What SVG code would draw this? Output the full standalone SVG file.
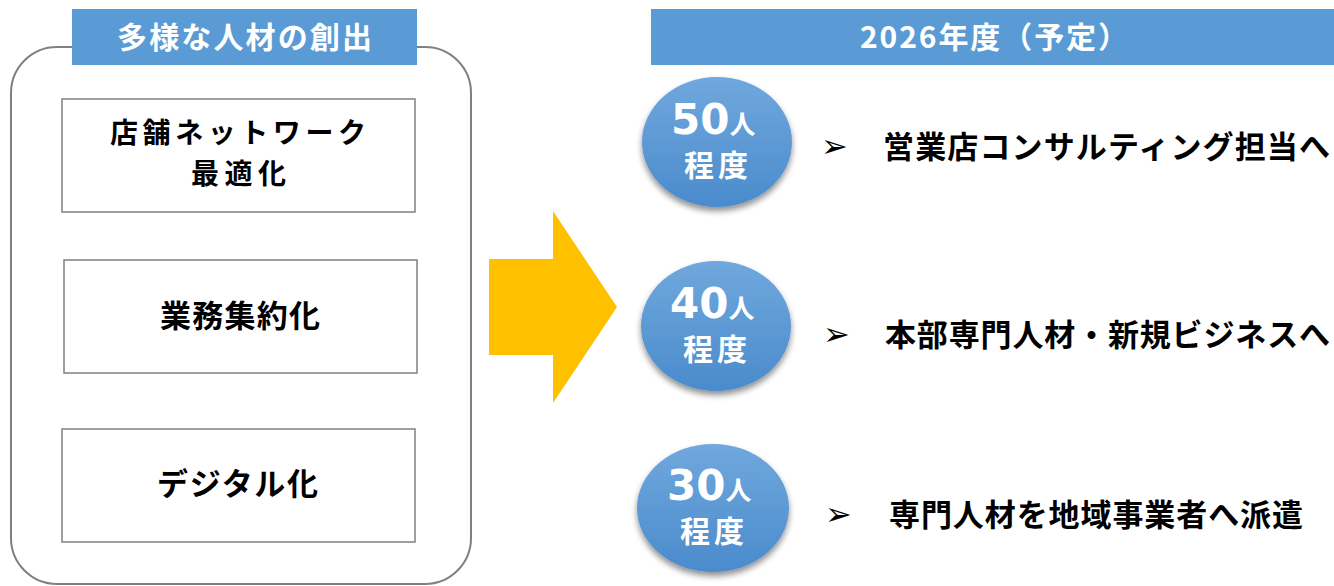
<svg xmlns="http://www.w3.org/2000/svg" width="1334" height="586" viewBox="0 0 1334 586">
<defs>
<linearGradient id="g" x1="0" y1="0" x2="0" y2="1">
<stop offset="0" stop-color="#70a8dd"/>
<stop offset="1" stop-color="#4a8bcc"/>
</linearGradient>
<filter id="sh" x="-20%" y="-20%" width="140%" height="150%">
<feGaussianBlur in="SourceAlpha" stdDeviation="3"/>
<feOffset dx="0" dy="4"/>
<feComponentTransfer><feFuncA type="linear" slope="0.45"/></feComponentTransfer>
<feMerge><feMergeNode/><feMergeNode in="SourceGraphic"/></feMerge>
</filter>
</defs>
<style>
text{font-family:"Noto Sans CJK JP","Noto Sans",sans-serif;font-weight:bold}
.hdr{fill:#5b9bd5}
.ht{fill:#fff;font-size:30px}
.box{fill:#fff;stroke:#808080;stroke-width:1.5}
.bt{fill:#000;font-size:31px}
.bt2{fill:#000;font-size:28px}
.ell{fill:url(#g);filter:url(#sh)}
.num{fill:#fff;font-size:42px;font-family:"DejaVu Sans",sans-serif}
.nin{fill:#fff;font-size:26px}
.deg{fill:#fff;font-size:30px}
.it{fill:#000;font-size:31px}
.bul{fill:#000;font-size:32px;font-family:"DejaVu Sans",sans-serif;font-weight:normal}
</style>
<g id="frame"><rect x="11" y="47" width="460" height="537" rx="46" fill="#fff" stroke="#808080" stroke-width="2"/></g>
<g id="hdr-left"><rect class="hdr" x="72" y="9" width="345" height="56"/><text class="ht" x="117" y="48" textLength="255" lengthAdjust="spacing">多様な人材の創出</text></g>
<g id="hdr-right"><rect class="hdr" x="651" y="9" width="683" height="56"/><text class="ht" x="860" y="48" textLength="268" lengthAdjust="spacing">2026年度（予定）</text></g>
<g id="box1"><rect class="box" x="62" y="99" width="353" height="113"/><text class="bt2" x="110" y="143" textLength="256" lengthAdjust="spacing">店舗ネットワーク</text><text class="bt2" x="191" y="184" textLength="95" lengthAdjust="spacing">最適化</text></g>
<g id="box2"><rect class="box" x="64" y="260" width="353" height="113"/><text class="bt" x="160" y="327" textLength="160" lengthAdjust="spacing">業務集約化</text></g>
<g id="box3"><rect class="box" x="62" y="429" width="353" height="113"/><text class="bt" x="157" y="495" textLength="161" lengthAdjust="spacing">デジタル化</text></g>
<g id="connectors"><polygon points="489,259 553,259 553,211 617,307 553,403 553,355 489,355" fill="#ffc000"/></g>
<g id="c1"><ellipse class="ell" cx="717" cy="142" rx="75" ry="65"/><text x="671" y="134"><tspan class="num">50</tspan><tspan class="nin">人</tspan></text><text class="deg" x="684" y="176" textLength="64" lengthAdjust="spacing">程度</text></g>
<g id="c2"><ellipse class="ell" cx="716" cy="326" rx="75" ry="65"/><text x="670" y="318"><tspan class="num">40</tspan><tspan class="nin">人</tspan></text><text class="deg" x="683" y="360" textLength="64" lengthAdjust="spacing">程度</text></g>
<g id="c3"><ellipse class="ell" cx="713" cy="508" rx="76" ry="64"/><text x="667" y="500"><tspan class="num">30</tspan><tspan class="nin">人</tspan></text><text class="deg" x="680" y="542" textLength="64" lengthAdjust="spacing">程度</text></g>
<g id="item1"><text class="bul" x="821" y="157">➢</text><text class="it" x="883" y="158" textLength="447" lengthAdjust="spacing">営業店コンサルティング担当へ</text></g>
<g id="item2"><text class="bul" x="823" y="345">➢</text><text class="it" x="885" y="346" textLength="445" lengthAdjust="spacing">本部専門人材・新規ビジネスへ</text></g>
<g id="item3"><text class="bul" x="825" y="525">➢</text><text class="it" x="889" y="526" textLength="414" lengthAdjust="spacing">専門人材を地域事業者へ派遣</text></g>
</svg>
